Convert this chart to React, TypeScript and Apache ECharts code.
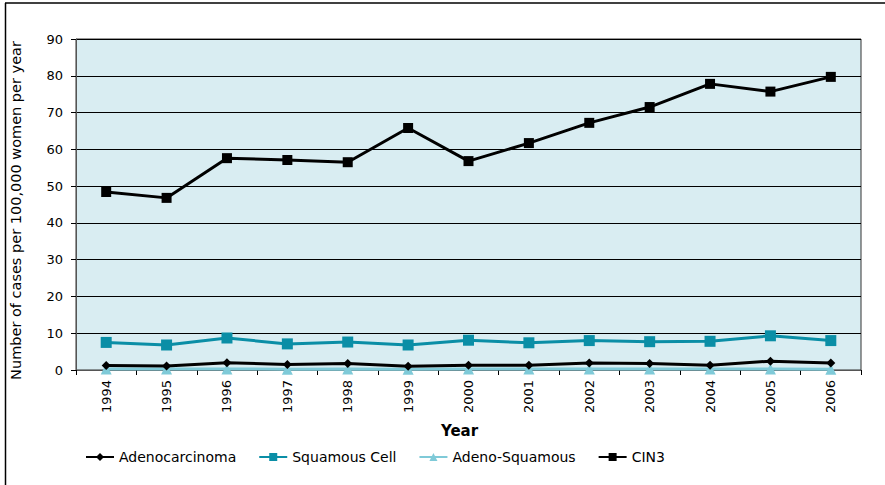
import React, { useEffect, useRef } from "react";
import * as echarts from "echarts";

const years = ["1994","1995","1996","1997","1998","1999","2000","2001","2002","2003","2004","2005","2006"];
const adenocarcinoma = [1.2, 1.1, 2.0, 1.5, 1.8, 1.0, 1.3, 1.3, 1.9, 1.8, 1.3, 2.4, 1.9];
const squamousCell = [7.5, 6.8, 8.7, 7.1, 7.6, 6.8, 8.1, 7.4, 8.0, 7.7, 7.8, 9.3, 8.0];
const adenoSquamous = [0.3, 0.3, 0.3, 0.2, 0.3, 0.2, 0.3, 0.3, 0.3, 0.3, 0.3, 0.3, 0.2];
const cin3 = [48.4, 46.8, 57.6, 57.1, 56.5, 65.8, 56.8, 61.7, 67.2, 71.5, 77.8, 75.7, 79.7];
const yTicks = { min: 0, max: 90, interval: 10 };

const FONT = "'DejaVu Sans', 'Open Sans', sans-serif";

export default function App() {
  const ref = useRef<HTMLDivElement>(null);
  useEffect(() => {
    document.body.style.margin = "0";
    const chart = echarts.init(ref.current!, null, { renderer: "svg" });
    const mk = (name: string, data: number[], color: string, symbol: string, size: number, width: number, z: number) => ({
      name,
      type: "line",
      data,
      symbol,
      symbolSize: size,
      z,
      lineStyle: { color, width },
      itemStyle: { color, borderWidth: 0 },
    });
    chart.setOption({
      animation: false,
      backgroundColor: "#ffffff",
      textStyle: { fontFamily: FONT },
      grid: {
        left: 76,
        top: 39,
        width: 785,
        height: 331,
        show: true,
        backgroundColor: "#d9edf2",
        borderColor: "#333333",
        borderWidth: 1,
      },
      graphic: [
        { type: "line", shape: { x1: 5, y1: 3, x2: 885, y2: 3 }, style: { stroke: "#000", lineWidth: 1.5 } },
        { type: "line", shape: { x1: 5.5, y1: 3, x2: 5.5, y2: 485 }, style: { stroke: "#000", lineWidth: 1.5 } },
      ],
      legend: {
        left: 80,
        top: 445,
        itemWidth: 28,
        itemHeight: 10,
        itemGap: 22,
        textStyle: { fontFamily: FONT, fontSize: 14, color: "#000" },
        data: ["Adenocarcinoma", "Squamous Cell", "Adeno-Squamous", "CIN3"],
      },
      xAxis: {
        type: "category",
        data: years,
        boundaryGap: true,
        name: "Year",
        nameLocation: "middle",
        nameGap: 53,
        nameTextStyle: { fontFamily: FONT, fontSize: 15, fontWeight: "bold", color: "#000", padding: [0, 18, 0, 0] },
        axisLine: { show: true, lineStyle: { color: "#555", width: 1 } },
        axisTick: { show: true, alignWithLabel: false, interval: 0, length: 5, lineStyle: { color: "#000" } },
        axisLabel: { rotate: 90, interval: 0, fontFamily: FONT, fontSize: 13, color: "#000", margin: 10 },
        splitLine: { show: false },
      },
      yAxis: {
        type: "value",
        min: yTicks.min,
        max: yTicks.max,
        interval: yTicks.interval,
        name: "Number of cases per 100,000 women per year",
        nameLocation: "middle",
        nameGap: 53,
        nameTextStyle: { fontFamily: FONT, fontSize: 14.5, color: "#000", padding: [0, 12, 0, 0] },
        axisLine: { show: true, lineStyle: { color: "#555", width: 1 } },
        axisTick: { show: true, length: 5, lineStyle: { color: "#000" } },
        axisLabel: { fontFamily: FONT, fontSize: 13, color: "#000", margin: 13 },
        splitLine: { show: true, lineStyle: { color: "#000", width: 1 } },
      },
      series: [
        mk("Adenocarcinoma", adenocarcinoma, "#000000", "diamond", 9, 3, 3),
        mk("Squamous Cell", squamousCell, "#0a8ea6", "rect", 11, 3, 2),
        mk("Adeno-Squamous", adenoSquamous, "#7fcad8", "triangle", 11, 3, 1),
        mk("CIN3", cin3, "#000000", "rect", 10, 3, 4),
      ],
    });
    return () => chart.dispose();
  }, []);
  return <div ref={ref} style={{ width: 885, height: 485 }} />;
}
